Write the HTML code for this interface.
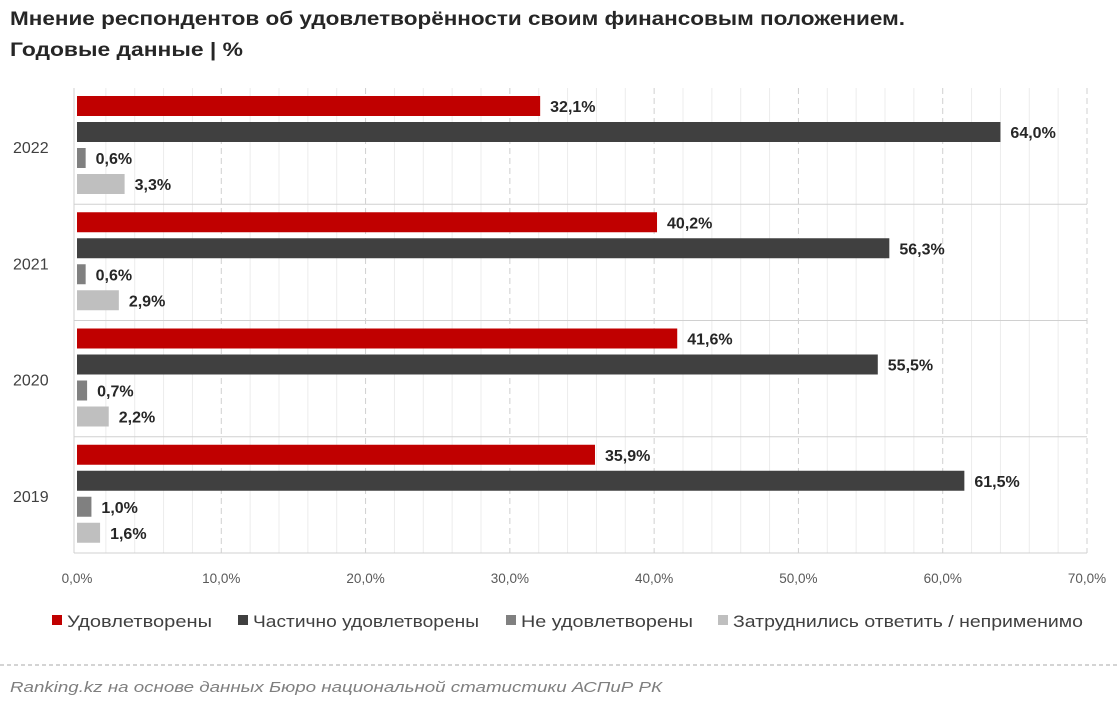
<!DOCTYPE html>
<html><head><meta charset="utf-8"><style>
body{margin:0;background:#fff;width:1120px;height:702px;overflow:hidden;font-family:"Liberation Sans",sans-serif}
</style></head><body>
<svg id="c" width="1120" height="702" xmlns="http://www.w3.org/2000/svg">
<text x="10" y="25" font-size="19" font-weight="bold" fill="#262626" textLength="895" lengthAdjust="spacingAndGlyphs">Мнение респондентов об удовлетворённости своим финансовым положением.</text>
<text x="10" y="56" font-size="19" font-weight="bold" fill="#262626" textLength="233" lengthAdjust="spacingAndGlyphs">Годовые данные | %</text>
<g id="grid"></g><g id="bars"></g><g id="axis"></g>
<line x1="0" y1="665" x2="1120" y2="665" stroke="#aaa" stroke-dasharray="4,3"/>
<text x="10" y="692" font-size="15" font-style="italic" fill="#7f7f7f" textLength="652" lengthAdjust="spacingAndGlyphs">Ranking.kz на основе данных Бюро национальной статистики АСПиР РК</text>
</svg>
<script>
const years=["2022","2021","2020","2019"];
const satisfied=[32.1,40.2,41.6,35.9];
const partly=[64.0,56.3,55.5,61.5];
const notSatisfied=[0.6,0.6,0.7,1.0];
const hardToSay=[3.3,2.9,2.2,1.6];
const ticks=[0,10,20,30,40,50,60,70];
const seriesNames=["Удовлетворены","Частично удовлетворены","Не удовлетворены","Затруднились ответить / неприменимо"];
const NS="http://www.w3.org/2000/svg";
const x0=77,x1=1087,yTop=88,yBot=553,xmax=70;
const X=v=>x0+v/xmax*(x1-x0);
const gh=(yBot-yTop)/years.length;
function mk(t,a,p){const e=document.createElementNS(NS,t);for(const k in a)e.setAttribute(k,a[k]);p.appendChild(e);return e;}
const grid=document.getElementById('grid'),bars=document.getElementById('bars'),axis=document.getElementById('axis');
for(let v=2;v<xmax;v+=2){if(v%10)mk('line',{x1:X(v),x2:X(v),y1:yTop,y2:yBot,stroke:'#ececec'},grid);}
ticks.forEach(t=>{
 if(t>0){const l=mk('line',{x1:X(t),x2:X(t),y1:yTop,y2:yBot,stroke:'#d0d0d0','stroke-dasharray':'6,4'},grid);
 
 }
 const tx=mk('text',{x:X(t),y:583,'font-size':13.5,fill:'#595959','text-anchor':'middle'},axis);
 tx.textContent=t.toFixed(1).replace('.',',')+'%';
 
 
});
mk('line',{x1:74,x2:74,y1:yTop,y2:yBot,stroke:'#d0d0d0'},axis);
mk('line',{x1:74,x2:x1,y1:yBot,y2:yBot,stroke:'#d0d0d0'},axis);
const series=[satisfied,partly,notSatisfied,hardToSay];
const colors=['#c00000','#404040','#808080','#bfbfbf'];
const keys=['satisfied','partly','not-satisfied','hard-to-say'];
years.forEach((y,i)=>{
 const g0=yTop+i*gh;
 if(i>0)mk('line',{x1:74,x2:x1,y1:g0,y2:g0,stroke:'#d0d0d0'},grid);
 const yl=mk('text',{x:13,y:g0+gh/2+7,'font-size':16,fill:'#404040'},axis);
 yl.textContent=y;
 
 
 series.forEach((s,j)=>{
  const by=g0+8+j*26;
  const r=mk('rect',{x:x0,y:by,width:X(s[i])-x0,height:20,fill:colors[j]},bars);
  
  
  const t=mk('text',{x:X(s[i])+10,y:by+16,'font-size':16,'font-weight':'bold',fill:'#262626'},bars);
  t.textContent=s[i].toFixed(1).replace('.',',')+'%';
  
  
 });
});
const lx=[52,238,506,718];
const lw=[145,226,172,350];
seriesNames.forEach((n,j)=>{
 const r=mk('rect',{x:lx[j],y:615,width:10,height:10,fill:colors[j]},axis);
 
 
 const t=mk('text',{x:lx[j]+15,y:627,'font-size':17,fill:'#404040',textLength:lw[j],lengthAdjust:'spacingAndGlyphs'},axis);
 t.textContent=n;
 
 
});
</script>
</body></html>
